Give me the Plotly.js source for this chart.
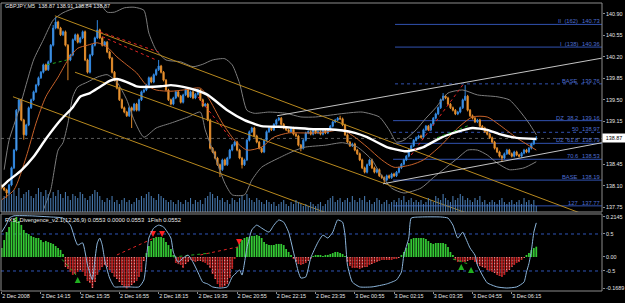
<!DOCTYPE html>
<html>
<head>
<meta charset="utf-8">
<script src="https://cdn.plot.ly/plotly-3.0.1.min.js"></script>
<style>html,body{margin:0;padding:0;background:#000;}#chart{width:625px;height:303px;}</style>
</head>
<body>
<div id="chart"></div>
<script>
// ---------- DATA ----------
const symbolLabel = "GBPJPY,M5  138.87 138.91 138.84 138.87";
const indicatorLabel = "FXS_Divergence_v2.1(12,26,9) 0.0553 0.0000 0.0553  1Fish 0.0552";
const firstOpen = 138.10;
const lastBar = {open: 138.87, high: 138.91, low: 138.84, close: 138.87};

const closes = [
138.06,138.03,137.98,138.11,138.39,138.68,139.33,139.50,139.17,138.93,
139.09,139.37,139.50,139.63,139.74,139.86,139.95,140.07,139.99,140.12,
140.39,140.67,140.77,140.67,140.56,140.61,140.39,140.15,140.23,140.48,
140.56,140.44,140.51,140.61,140.15,139.95,140.23,140.39,140.51,140.64,
140.51,140.39,140.44,140.28,140.18,139.95,139.82,139.69,139.50,139.37,
139.30,139.24,139.37,139.33,139.43,139.33,139.50,139.63,139.66,139.74,
139.86,139.79,139.91,139.99,140.05,139.95,139.82,139.66,139.50,139.43,
139.53,139.63,139.56,139.46,139.58,139.66,139.55,139.63,139.53,139.59,
139.66,139.50,139.40,139.43,139.17,138.71,138.65,138.55,138.44,138.36,
138.52,138.44,138.55,138.68,138.76,138.81,138.68,138.55,138.44,138.52,
138.84,138.98,139.04,138.91,138.81,138.71,138.65,138.84,138.98,139.04,
139.01,139.10,139.17,139.20,139.10,139.04,139.01,138.98,139.04,138.94,
138.91,138.76,138.71,138.84,138.96,138.98,138.94,139.00,138.96,138.98,
138.94,139.00,138.96,139.01,139.07,139.14,139.17,139.20,139.19,139.09,
138.93,138.81,138.75,138.78,138.68,138.62,138.52,138.39,138.32,138.44,
138.52,138.39,138.32,138.36,138.26,138.23,138.19,138.26,138.23,138.29,
138.26,138.32,138.39,138.45,138.52,138.58,138.68,138.75,138.84,138.88,
138.91,138.89,139.01,139.07,139.01,139.10,139.20,139.27,139.37,139.50,
139.56,139.53,139.43,139.37,139.33,139.27,139.30,139.37,139.50,139.56,
139.33,139.24,139.20,139.14,139.17,139.07,139.04,138.98,138.94,138.88,
138.81,138.71,138.65,138.58,138.55,138.62,138.68,138.62,138.58,138.65,
138.60,138.58,138.63,138.68,138.65,138.71,138.78,138.84,138.87];

// notable wick extremes (bar index -> price)
const highWicks = {21:140.72, 22:140.85, 39:140.80, 64:140.15, 138:139.24, 180:139.61, 189:139.74};
const lowWicks  = {2:137.90, 9:138.85, 27:139.82, 53:139.04, 89:138.24, 98:138.38, 122:138.66, 156:138.14, 204:138.49};
const wickTick = 0.02;

const volumes = [
120,160,140,200,180,220,160,240,140,180, 200,220,160,140,180,240,200,160,220,180,
140,200,160,220,180,140,200,160,120,180, 160,140,200,180,140,120,160,180,220,200,
160,120,100,140,120,160,100,120,80,120, 140,100,120,80,100,140,120,160,140,180,
200,160,140,120,180,160,140,120,100,120, 100,80,120,100,80,120,100,140,80,120,
100,120,80,140,160,200,180,140,160,120, 140,100,120,80,140,120,100,140,160,120,
180,140,120,100,140,120,100,80,120,100, 80,100,60,80,100,120,80,60,100,80,
120,100,80,60,80,60,100,80,60,80, 100,60,80,120,140,160,100,120,140,100,
120,140,100,160,120,100,140,120,160,100, 120,80,100,140,120,80,100,120,80,100,
120,100,140,120,160,100,120,140,100,120, 100,120,80,100,140,120,100,160,140,120,
180,140,120,100,160,120,140,180,160,120, 140,120,100,140,120,160,100,120,80,100,
120,100,80,120,140,100,80,100,120,80, 100,120,80,140,100,120,80,120,60];

// moving averages / bands (bar index, price)
const maSlowIdx = [0,3,8,13,18,24,29,32,36,40,44,47,51,55,59,65,69,74,79,84,92,99,106,113,120,127,133,139,144,149,157,165,172,179,186,192,198,203,210,218];
const maSlowVal = [138.08,138.19,138.35,138.57,138.86,139.17,139.38,139.55,139.61,139.71,139.81,139.84,139.79,139.72,139.71,139.72,139.74,139.71,139.66,139.58,139.33,139.17,139.07,139.06,139.04,139.02,139.02,139.00,138.96,138.89,138.73,138.66,138.73,138.88,138.98,139.04,139.01,138.94,138.88,138.86];
const maFastIdx = [0,5,10,14,18,23,27,31,35,39,43,47,51,55,59,63,69,74,81,84,90,95,100,106,111,117,122,128,133,139,144,149,155,160,167,172,179,186,192,198,203,210,218];
const maFastVal = [137.87,138.03,138.57,139.12,139.55,139.87,140.15,140.34,140.39,140.43,140.36,140.20,140.07,139.94,139.74,139.66,139.64,139.66,139.69,139.55,139.12,138.84,138.68,138.73,138.89,138.96,138.96,138.96,138.98,139.01,138.89,138.73,138.52,138.40,138.44,138.52,138.75,139.04,139.22,139.22,139.09,138.88,138.68];
const bbUpIdx = [1,3,7,13,17,21,25,30,34,40,43,46,50,54,58,60,63,67,73,78,82,86,91,94,97,100,103,109,116,122,128,134,140,147,154,158,161,164,169,173,177,182,188,194,202,207,211,215,218];
const bbUpVal = [138.36,138.84,139.33,140.15,140.48,140.80,140.92,141.00,141.05,141.06,140.93,140.93,141.00,141.01,140.96,140.59,140.31,140.15,140.12,140.04,140.08,140.15,140.17,140.07,139.77,139.33,139.28,139.30,139.28,139.22,139.22,139.25,139.28,139.30,139.22,139.01,138.81,138.84,139.01,139.20,139.37,139.61,139.66,139.58,139.55,139.50,139.33,139.12,138.93];
const bbLoIdx = [15,17,20,23,25,27,29,31,35,39,43,47,51,54,58,63,69,76,81,83,87,91,94,99,102,106,114,120,124,132,139,145,151,154,159,164,171,176,181,186,190,194,198,202,207,213,218];
const bbLoVal = [137.40,137.70,138.03,138.68,138.80,139.12,139.55,139.71,139.79,139.87,139.91,139.79,139.50,139.17,138.89,139.04,139.12,139.22,139.30,139.01,138.57,138.14,137.95,137.95,138.19,138.40,138.57,138.68,138.73,138.76,138.80,138.73,138.52,138.32,138.06,137.98,138.06,138.23,138.39,138.55,138.68,138.68,138.60,138.47,138.36,138.39,138.49];

// drawn trend / channel lines (bar index, price)
const channelLines = [
  {i:[21.7,244.8], p:[140.87,137.52]},
  {i:[29.9,244.8], p:[139.95,136.86]},
  {i:[4.6,244.8],  p:[139.55,135.99]}
];
const supportLines = [
  {i:[112.3,244.8], p:[139.24,140.18]},
  {i:[155.5,244.8], p:[138.13,138.80]}
];
const redDivMain = [
  {i:[40,64], p:[140.61,140.28]},
  {i:[41,63], p:[140.53,140.15]},
  {i:[80,94], p:[139.55,138.84]},
  {i:[167,188], p:[138.60,139.74]}
];
const greenDivMain = [
  {i:[18.5,26.6], p:[140.07,140.15]},
  {i:[177.5,191], p:[138.88,139.09]}
];

// Fibonacci levels
const fibNames  = ["II  (162)","I  (138)","BASE","DZ  38.2","50","DZ  61.8","70.6","BASE","127"];
const fibPrices = [140.73,140.36,139.76,139.16,138.97,138.79,138.53,138.19,137.77];
const fibDash   = ["solid","solid","dot","solid","dot","solid","solid","solid","solid"];
const fibStart  = [160.4,160.4,160.4,159.6,159.6,159.6,159.6,159.6,159.6];
const bidPrice = 138.87;

// time axis
const timeTickIdx = [0,16,32,48,64,80,96,112,128,144,160,176,192,208];
const timeTickText = ["2 Dec 2008","2 Dec 14:15","2 Dec 15:35","2 Dec 16:55","2 Dec 18:15","2 Dec 19:35","2 Dec 20:55","2 Dec 22:15","2 Dec 23:35","3 Dec 00:55","3 Dec 02:15","3 Dec 03:35","3 Dec 04:55","3 Dec 06:15"];
// 138.80 sits under the bid-price box in the reference
const priceTicks = [140.90,140.55,140.20,139.85,139.50,139.15,138.45,138.10,137.75];

// indicator: divergence histogram (per bar)
const hist = [
0.048,0.091,0.134,0.161,0.188,0.204,0.2145,0.193,0.172,0.145,
0.129,0.123,0.113,0.107,0.102,0.102,0.091,0.080,0.086,0.080,
0.075,0.070,0.059,0.048,0.038,0.016,-0.054,-0.064,-0.080,-0.096,
-0.091,-0.080,-0.070,-0.080,-0.102,-0.129,-0.139,-0.166,-0.134,-0.096,
-0.070,-0.054,-0.043,-0.054,-0.070,-0.086,-0.107,-0.118,-0.134,-0.150,
-0.161,-0.1689,-0.161,-0.150,-0.139,-0.129,-0.107,-0.080,-0.021,0.021,
0.059,0.086,0.102,0.107,0.107,0.107,0.102,0.080,0.064,0.043,
0.011,-0.032,-0.038,-0.043,-0.059,-0.038,-0.027,-0.016,-0.021,-0.027,
-0.021,-0.021,-0.027,-0.032,-0.043,-0.059,-0.091,-0.118,-0.145,-0.161,
-0.161,-0.155,-0.145,-0.113,-0.064,-0.011,0.054,0.075,0.091,0.102,
0.107,0.107,0.113,0.113,0.118,0.113,0.102,0.080,0.070,0.064,
0.064,0.064,0.070,0.070,0.070,0.064,0.043,0.027,0.011,-0.011,
-0.027,-0.038,-0.043,-0.038,-0.032,-0.021,-0.011,0.005,0.011,0.011,
0.011,0.005,0.011,0.011,0.016,0.021,0.027,0.027,0.021,0.016,
0.005,-0.027,-0.048,-0.059,-0.059,-0.059,-0.064,-0.059,-0.054,-0.054,
-0.043,-0.038,-0.032,-0.027,-0.021,-0.016,-0.016,-0.016,-0.016,-0.016,
-0.011,-0.011,-0.005,0.011,0.027,0.048,0.075,0.096,0.102,0.102,
0.102,0.102,0.102,0.096,0.086,0.075,0.070,0.075,0.075,0.075,
0.075,0.070,0.054,0.027,0.011,-0.016,-0.027,-0.027,-0.027,-0.027,
-0.021,-0.016,-0.016,-0.027,-0.038,-0.048,-0.054,-0.059,-0.070,-0.075,
-0.080,-0.086,-0.096,-0.102,-0.107,-0.096,-0.080,-0.070,-0.054,-0.043,
-0.032,-0.027,-0.016,-0.005,0.011,0.021,0.038,0.048,0.0553];

// indicator: fisher line (bar index, value)
const fishIdx = [0,2,3,5,12,20,25,28,30,31,33,35,37,38,39,40,41,42,44,46,48,52,56,58,60,62,64,66,69,70,72,74,76,78,80,82,84,86,89,92,94,96,97,98,100,102,104,106,109,111,113,115,117,119,121,122,124,126,129,131,133,135,137,139,140,141,143,146,151,157,161,163,164,166,167,171,179,182,184,186,188,189,191,193,194,196,198,202,206,210,213,214,215,216,217,218];
const fishVal = [0.55,0.77,0.93,0.99,0.99,0.96,0.93,0.74,0.34,0.20,0.26,-0.34,-0.74,-0.20,0.26,0.39,0.20,-0.20,-0.69,-0.93,-0.93,-0.93,-0.93,-0.74,0.39,0.66,0.74,0.69,0.39,0.01,-0.26,-0.15,-0.07,-0.26,-0.53,-0.80,-0.85,-0.93,-0.96,-0.93,-0.66,-0.53,-0.47,-0.61,0.12,0.61,0.74,0.66,0.55,0.74,0.88,0.82,0.55,0.01,-0.53,-0.69,-0.66,-0.15,0.28,0.47,0.39,0.55,0.88,0.82,0.47,-0.34,-0.80,-0.93,-0.93,-0.85,-0.74,-0.53,-0.07,0.39,0.93,0.96,0.96,0.93,0.74,0.39,0.55,0.42,0.12,-0.07,-0.34,-0.61,-0.82,-0.93,-0.96,-0.93,-0.80,-0.53,-0.30,0.05,0.55,0.80];
const fishLevels = [0.5,-0.5];
const macdTicks = [0.2145,0,-0.1689];
const macdTickText = ["0.2145","0.00","-0.1689"];

// indicator signals
const sellArrowIdx = [61.7,65.4,96.8], sellArrowVal = [0.107,0.107,0.064];
const buyArrowIdx = [31,187.4,191.4],  buyArrowVal = [-0.107,-0.038,-0.054];
const redDivInd = [{i:[47,63], v:[0.011,0.107]}, {i:[81,96.4], v:[0.011,0.054]}];
const greenDivInd = [{i:[23,31], v:[0.011,-0.107]}, {i:[70,85], v:[0.0,0.021]}, {i:[184,191], v:[-0.011,-0.04]}];

// ---------- BUILD ----------
const N = closes.length;
const idx = closes.map((_, i) => i);
const opens = closes.map((c, i) => i === 0 ? firstOpen : closes[i - 1]);
opens[N - 1] = lastBar.open;
const highs = closes.map((c, i) => highWicks[i] !== undefined ? highWicks[i] : Math.max(opens[i], c) + wickTick);
const lows  = closes.map((c, i) => lowWicks[i]  !== undefined ? lowWicks[i]  : Math.min(opens[i], c) - wickTick);
highs[N - 1] = lastBar.high; lows[N - 1] = lastBar.low;

const FONT = "Liberation Sans, Arial, sans-serif";
const traces = [];

traces.push({type:'bar', x:idx, y:volumes, xaxis:'x', yaxis:'y2', width:0.45,
  marker:{color:'#4576ab', line:{width:0}}, hoverinfo:'skip'});

traces.push({type:'scatter', mode:'lines', x:bbUpIdx, y:bbUpVal, line:{color:'#7d7d7d', width:1, shape:'spline', smoothing:0.6}, hoverinfo:'skip'});
traces.push({type:'scatter', mode:'lines', x:bbLoIdx, y:bbLoVal, line:{color:'#7d7d7d', width:1, shape:'spline', smoothing:0.6}, hoverinfo:'skip'});

channelLines.forEach(l => traces.push({type:'scatter', mode:'lines', x:l.i, y:l.p, line:{color:'#b8891e', width:1}, hoverinfo:'skip'}));
supportLines.forEach(l => traces.push({type:'scatter', mode:'lines', x:l.i, y:l.p, line:{color:'#c4c4c4', width:1}, hoverinfo:'skip'}));

traces.push({type:'scatter', mode:'lines', x:maFastIdx, y:maFastVal, line:{color:'#c8622a', width:1, shape:'spline', smoothing:0.7}, hoverinfo:'skip'});

traces.push({type:'candlestick', x:idx, open:opens, high:highs, low:lows, close:closes,
  increasing:{line:{color:'#2f86e0', width:1}, fillcolor:'#79b8f0'},
  decreasing:{line:{color:'#e08a2a', width:1}, fillcolor:'#f4a440'},
  whiskerwidth:0, hoverinfo:'skip'});

traces.push({type:'scatter', mode:'lines', x:maSlowIdx, y:maSlowVal, line:{color:'#ffffff', width:2.4, shape:'spline', smoothing:0.5}, hoverinfo:'skip'});

redDivMain.forEach(l => traces.push({type:'scatter', mode:'lines', x:l.i, y:l.p, line:{color:'#e02424', width:1, dash:'dot'}, hoverinfo:'skip'}));
greenDivMain.forEach(l => traces.push({type:'scatter', mode:'lines', x:l.i, y:l.p, line:{color:'#22a822', width:1, dash:'dot'}, hoverinfo:'skip'}));

// indicator panel
traces.push({type:'bar', x:idx, y:hist, xaxis:'x', yaxis:'y3', width:0.72,
  marker:{color:hist.map(v => v >= 0 ? '#34c834' : '#b81e1e'), line:{width:0},
    pattern:{shape:hist.map(v => v < 0 ? '.' : ''), fillmode:'overlay', fgcolor:'#ff6060', size:3, solidity:0.2}}, hoverinfo:'skip'});
redDivInd.forEach(l => traces.push({type:'scatter', mode:'lines', x:l.i, y:l.v, yaxis:'y3', line:{color:'#e02424', width:1, dash:'dot'}, hoverinfo:'skip'}));
greenDivInd.forEach(l => traces.push({type:'scatter', mode:'lines', x:l.i, y:l.v, yaxis:'y3', line:{color:'#22a822', width:1, dash:'dot'}, hoverinfo:'skip'}));
traces.push({type:'scatter', mode:'lines', x:fishIdx, y:fishVal, yaxis:'y4', line:{color:'#8db6dc', width:1, shape:'spline', smoothing:0.5}, hoverinfo:'skip'});
traces.push({type:'scatter', mode:'markers', x:sellArrowIdx, y:sellArrowVal, yaxis:'y3', marker:{symbol:'arrow-down', size:6, color:'#ff2020'}, hoverinfo:'skip'});
traces.push({type:'scatter', mode:'markers', x:buyArrowIdx, y:buyArrowVal, yaxis:'y3', marker:{symbol:'arrow-up', size:6, color:'#20b020'}, hoverinfo:'skip'});

// shapes
const shapes = [];
fibPrices.forEach((p, k) => shapes.push({type:'line', xref:'x', yref:'y', x0:fibStart[k], x1:244.8, y0:p, y1:p,
  line:{color:'#3152b0', width:1, dash:fibDash[k]}, layer:'below'}));
shapes.push({type:'line', xref:'paper', yref:'y', x0:0, x1:1, y0:bidPrice, y1:bidPrice, line:{color:'#5a5a5a', width:1, dash:'dot'}, layer:'below'});
fishLevels.forEach(v => shapes.push({type:'line', xref:'paper', yref:'y4', x0:0, x1:1, y0:v, y1:v, line:{color:'#2f55b8', width:1, dash:'dot'}, layer:'below'}));
const MAIN_BOTTOM = 0.2743, IND_TOP = 0.2674;
shapes.push({type:'rect', xref:'paper', yref:'paper', x0:0, x1:1, y0:MAIN_BOTTOM, y1:1, line:{color:'#8c8c8c', width:1}, fillcolor:'rgba(0,0,0,0)'});
shapes.push({type:'rect', xref:'paper', yref:'paper', x0:0, x1:1, y0:0, y1:IND_TOP, line:{color:'#8c8c8c', width:1}, fillcolor:'rgba(0,0,0,0)'});

// annotations
const annotations = [];
const px = v => (v - 1) / 601;
fibPrices.forEach((p, k) => {
  annotations.push({xref:'paper', yref:'y', x:px(579), y:p, xanchor:'right', yanchor:'bottom', text:fibNames[k], showarrow:false,
    font:{family:FONT, size:5.8, color:'#4d6ed0'}, borderpad:0, yshift:-1});
  annotations.push({xref:'paper', yref:'y', x:px(601), y:p, xanchor:'right', yanchor:'bottom', text:p.toFixed(2), showarrow:false,
    font:{family:FONT, size:5.8, color:'#4d6ed0'}, borderpad:0, yshift:-1});
});
annotations.push({xref:'paper', yref:'paper', x:px(4), y:(291-5.5)/288, xanchor:'left', yanchor:'middle', text:symbolLabel, showarrow:false,
  font:{family:FONT, size:5.5, color:'#e8e8e8'}, borderpad:0});
annotations.push({xref:'paper', yref:'paper', x:px(4), y:(291-219.5)/288, xanchor:'left', yanchor:'middle', text:indicatorLabel, showarrow:false,
  font:{family:FONT, size:5.8, color:'#e8e8e8'}, borderpad:0});
annotations.push({xref:'paper', yref:'y', x:1, y:bidPrice, xanchor:'left', yanchor:'middle', text:bidPrice.toFixed(2), showarrow:false,
  bgcolor:'#ffffff', font:{family:FONT, size:5.4, color:'#000000'}, borderpad:1, xshift:0, width:20});

const axFont = {family:FONT, size:5.4, color:'#e6e6e6'};
const layout = {
  width:625, height:303,
  margin:{l:1, r:23, t:3, b:12, pad:0},
  paper_bgcolor:'#000000', plot_bgcolor:'#000000',
  showlegend:false, hovermode:false, barmode:'overlay',
  xaxis:{range:[-0.285,244.8], anchor:'y3', showgrid:false, zeroline:false, showline:false, automargin:false,
    tickmode:'array', tickvals:timeTickIdx, ticktext:timeTickText, tickangle:0, ticks:'outside', ticklen:2, tickcolor:'#8c8c8c',
    ticklabelposition:'outside right', tickfont:axFont, rangeslider:{visible:false}, fixedrange:true},
  yaxis:{domain:[MAIN_BOTTOM,1], range:[137.670,141.079], side:'right', showgrid:false, zeroline:false, automargin:false,
    tickmode:'array', tickvals:priceTicks, ticktext:priceTicks.map(v => v.toFixed(2)), ticks:'outside', ticklen:2, tickcolor:'#8c8c8c', tickfont:axFont, fixedrange:true},
  yaxis2:{overlaying:'y', range:[0,2090], visible:false, fixedrange:true},
  yaxis3:{domain:[0,IND_TOP], range:[-0.1823,0.2306], side:'right', showgrid:false, zeroline:false, anchor:'x', automargin:false,
    tickmode:'array', tickvals:macdTicks, ticktext:macdTickText, ticks:'outside', ticklen:2, tickcolor:'#8c8c8c', tickfont:axFont, fixedrange:true},
  yaxis4:{overlaying:'y3', range:[-1.0405,1.0405], side:'right', showgrid:false, zeroline:false, automargin:false,
    tickmode:'array', tickvals:fishLevels, ticktext:fishLevels.map(v => v.toFixed(1)), ticks:'outside', ticklen:2, tickcolor:'#8c8c8c', tickfont:axFont, fixedrange:true},
  shapes:shapes, annotations:annotations
};
Plotly.newPlot('chart', traces, layout, {staticPlot:true, displayModeBar:false});
</script>
</body>
</html>
